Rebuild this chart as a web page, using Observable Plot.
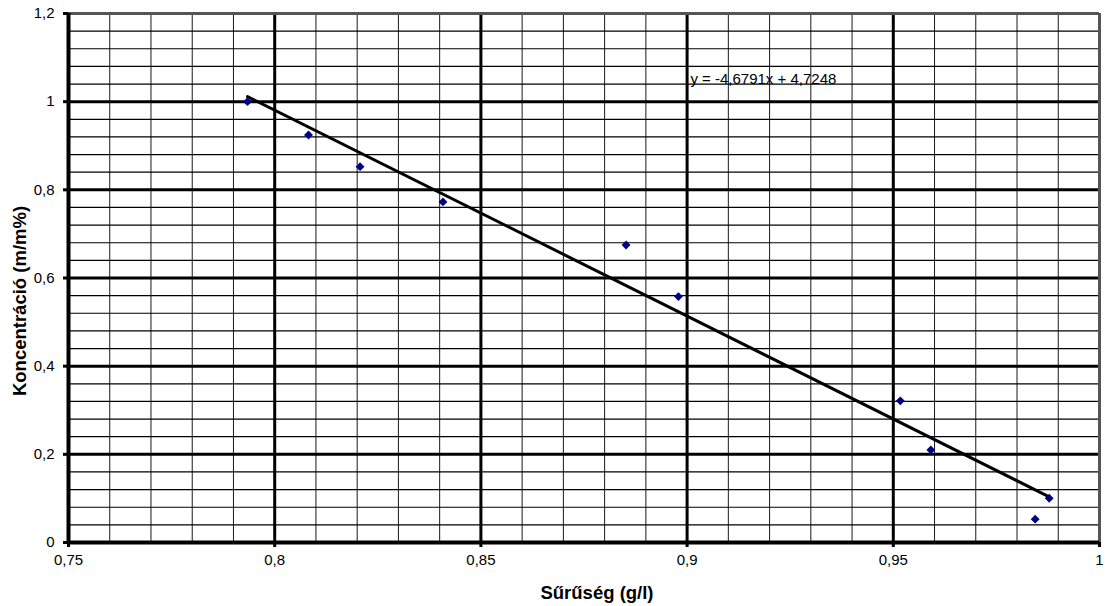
<!DOCTYPE html>
<html>
<head>
<meta charset="utf-8">
<script src="https://cdn.jsdelivr.net/npm/d3@7"></script>
<script src="https://cdn.jsdelivr.net/npm/@observablehq/plot@0.6"></script>
<style>
  html, body { margin: 0; padding: 0; background: #fff; }
  #chart svg { display: block; font-family: "Liberation Sans", Arial, sans-serif; }
</style>
</head>
<body>
<div id="chart"></div>
<script>
// Data
const density = [0.7934, 0.8082, 0.8207, 0.8408, 0.8852, 0.8979, 0.9517, 0.9591, 0.9878, 0.9844];
const concentration = [1.0, 0.9245, 0.8526, 0.7726, 0.675, 0.5578, 0.3213, 0.210, 0.1005, 0.053];

const xTicks = [0.75, 0.8, 0.85, 0.9, 0.95, 1];
const yTicks = [0, 0.2, 0.4, 0.6, 0.8, 1, 1.2];
const xMinorGrid = d3.range(75, 101, 1).map(v => v / 100);
const yMinorGrid = d3.range(0, 31, 1).map(v => v * 0.04);

const equationLabel = "y = -4,6791x + 4,7248";
const equationAt = {x: 0.9008, y: 1.05};

const xLabel = "Sűrűség (g/l)";
const yLabel = "Koncentráció (m/m%)";

const points = density.map((x, i) => ({x, y: concentration[i]}));
const fmt = d => String(+d.toFixed(2)).replace(".", ",");

const chart = Plot.plot({
  width: 1105,
  height: 606,
  marginLeft: 68,
  marginRight: 6,
  marginTop: 13,
  marginBottom: 64,
  style: {fontFamily: "'Liberation Sans', Arial, sans-serif", fontSize: "15px", color: "#000", background: "#fff"},
  x: {domain: [0.75, 1.0]},
  y: {domain: [0, 1.2]},
  marks: [
    // minor grid
    Plot.ruleX(xMinorGrid, {stroke: "#1a1a1a", strokeWidth: 1}),
    Plot.ruleY(yMinorGrid, {stroke: "#000", strokeWidth: 1.2}),
    // major grid
    Plot.ruleX(xTicks.slice(1, -1), {stroke: "#000", strokeWidth: 3}),
    Plot.ruleY(yTicks.slice(1, -1), {stroke: "#000", strokeWidth: 3}),
    // frame
    Plot.ruleY([1.2], {stroke: "#555", strokeWidth: 3}),
    Plot.ruleX([1.0], {stroke: "#555", strokeWidth: 3}),
    Plot.ruleX([0.75], {stroke: "#000", strokeWidth: 4}),
    Plot.ruleY([0], {stroke: "#000", strokeWidth: 4}),
    // axes
    Plot.axisX({ticks: xTicks, tickFormat: fmt, tickSize: 5, tickPadding: 7, strokeWidth: 3,
      label: null, fontSize: 15}),
    Plot.axisY({ticks: yTicks, tickFormat: fmt, tickSize: 5, tickPadding: 9, strokeWidth: 3,
      label: null, fontSize: 15}),
    // axis titles
    Plot.text([xLabel], {frameAnchor: "bottom", text: d => d, dx: 13, dy: 51, lineAnchor: "middle",
      fontSize: 18.5, fontWeight: "bold", fill: "#000"}),
    Plot.text([yLabel], {frameAnchor: "left", text: d => d, rotate: -90, dx: -48, dy: 23, lineAnchor: "middle",
      textAnchor: "middle", fontSize: 18.5, fontWeight: "bold", fill: "#000"}),
    // trend line
    Plot.linearRegressionY(points, {x: "x", y: "y", ci: 0, stroke: "#000", strokeWidth: 3}),
    // data points
    Plot.dot(points, {x: "x", y: "y", symbol: "diamond2", r: 4, fill: "#000080", stroke: "none"}),
    // equation
    Plot.text([equationAt], {x: "x", y: "y", text: () => equationLabel, textAnchor: "start", fontSize: 15, fill: "#000"})
  ]
});

document.getElementById("chart").appendChild(chart);
</script>
</body>
</html>
